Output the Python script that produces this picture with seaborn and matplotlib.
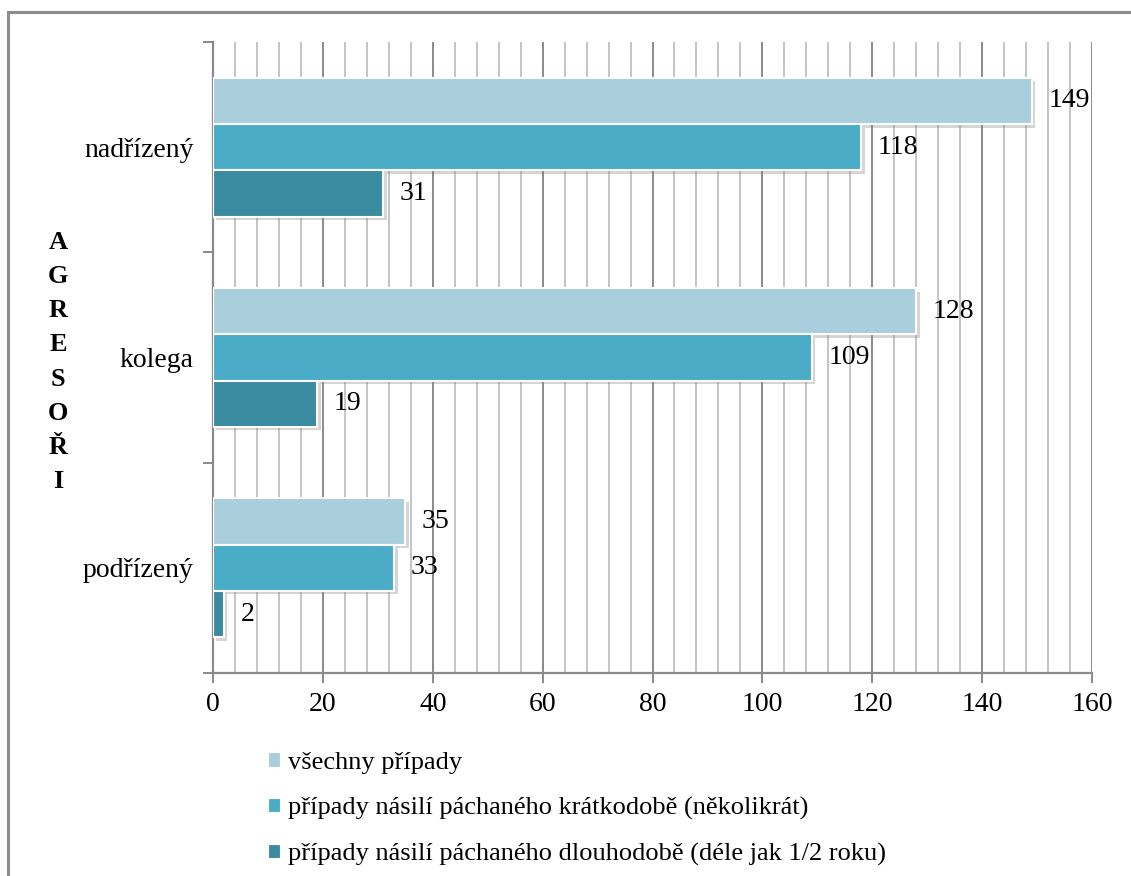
import matplotlib
matplotlib.use("Agg")
import matplotlib.pyplot as plt
import matplotlib.patheffects as pe
from matplotlib.patches import Rectangle, Patch
from matplotlib.ticker import MultipleLocator, FixedLocator, NullFormatter
import seaborn as sns
import pandas as pd

# Data
aggressors = ["nadřízený", "kolega", "podřízený"]
series_names = [
    "všechny případy",
    "případy násilí páchaného krátkodobě (několikrát)",
    "případy násilí páchaného dlouhodobě (déle jak 1/2 roku)",
]
all_cases = [149, 128, 35]
short_term = [118, 109, 33]
long_term = [31, 19, 2]
x_ticks = [0, 20, 40, 60, 80, 100, 120, 140, 160]

colors = ["#A9CEDC", "#4AACC6", "#3B8BA0"]

sns.set_theme(style="white")
plt.rcParams["font.family"] = ["Liberation Serif", "DejaVu Serif"]
plt.rcParams["text.color"] = "black"
plt.rcParams["xtick.color"] = "black"
plt.rcParams["ytick.color"] = "black"

rows = []
for name, vals in zip(series_names, [all_cases, short_term, long_term]):
    for agg, v in zip(aggressors, vals):
        rows.append({"agresor": agg, "serie": name, "hodnota": v})
df = pd.DataFrame(rows)

fig = plt.figure(figsize=(11.31, 8.76), dpi=100)
ax = fig.add_axes([213 / 1131, 1 - 673 / 876, (1092 - 213) / 1131, (673 - 42) / 876])

# outer frame
fig.patches.append(Rectangle((8 / 1131, -0.05), 1.2, 1 - 12 / 876 + 0.05,
                             transform=fig.transFigure, fill=False,
                             edgecolor="#8C8C8C", linewidth=2.2, zorder=0))

sns.barplot(data=df, y="agresor", x="hodnota", hue="serie", order=aggressors,
            hue_order=series_names, palette=colors, orient="h", width=0.66,
            dodge=True, ax=ax, legend=False, edgecolor="white", linewidth=1.5,
            saturation=1, zorder=3)

shadow = [pe.SimplePatchShadow(offset=(2.5, -2.5), shadow_rgbFace="#888888", alpha=0.35),
          pe.Normal()]
for bar in ax.patches:
    bar.set_path_effects(shadow)

for cont in ax.containers:
    ax.bar_label(cont, padding=12, fontsize=20, color="black")

ax.set_xlim(0, 160)
ax.set_ylim(2.5, -0.5)
ax.xaxis.set_major_locator(FixedLocator(x_ticks))
ax.xaxis.set_minor_locator(MultipleLocator(4))
ax.grid(which="major", axis="x", color="#8A8A8A", linewidth=1.4, zorder=0)
ax.grid(which="minor", axis="x", color="#C4C4C4", linewidth=1.4, zorder=0)
ax.set_axisbelow(True)

ax.yaxis.set_major_locator(FixedLocator([-0.5, 0.5, 1.5, 2.5]))
ax.yaxis.set_major_formatter(NullFormatter())
ax.yaxis.set_minor_locator(FixedLocator([0, 1, 2]))
ax.set_yticklabels(aggressors, minor=True)
ax.tick_params(axis="y", which="minor", length=0, pad=14, labelsize=20, labelcolor="black")
ax.tick_params(axis="y", which="major", length=7, width=1.4, color="#8A8A8A", direction="out", left=True)
ax.tick_params(axis="x", which="major", length=7, width=1.4, color="#8A8A8A", direction="out",
               bottom=True, labelsize=20, pad=7, labelcolor="black")
ax.tick_params(axis="x", which="minor", length=0)

for side in ["top", "right"]:
    ax.spines[side].set_visible(False)
for side in ["left", "bottom"]:
    ax.spines[side].set_color("#8A8A8A")
    ax.spines[side].set_linewidth(1.6)

ax.set_xlabel("")
ax.set_ylabel("")

# vertical stacked axis title
fig.text(58 / 1131, 1 - 362 / 876, "\n".join("AGRESOŘI"), ha="center", va="center",
         fontsize=19, fontweight="bold", linespacing=1.62)

handles = [Patch(facecolor=c, edgecolor="white", linewidth=0.8) for c in colors]
fig.legend(handles, series_names, loc="upper left",
           bbox_to_anchor=(268 / 1131, 1 - 752 / 876), frameon=False, fontsize=19,
           handlelength=0.47, handleheight=0.47, handletextpad=0.3, labelspacing=0.86,
           borderaxespad=0, borderpad=0)

fig.savefig("out.png", dpi=100)
